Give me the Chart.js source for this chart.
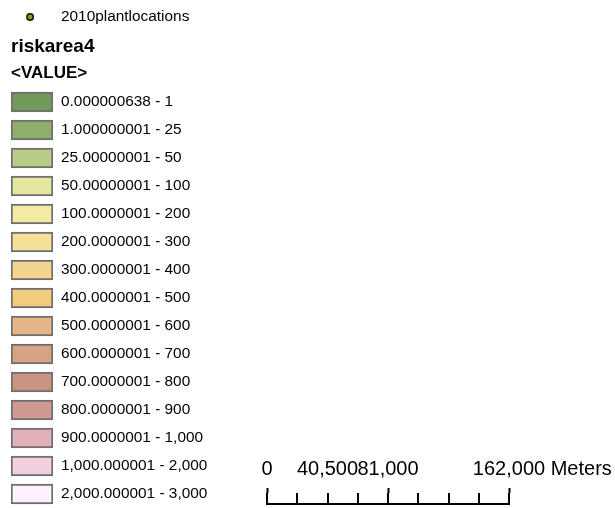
<!DOCTYPE html>
<html>
<head>
<meta charset="utf-8">
<script src="https://cdn.jsdelivr.net/npm/chart.js@4.4.1/dist/chart.umd.min.js"></script>
<style>
  html, body { margin: 0; padding: 0; background: #fff; overflow: hidden; }
  #wrap { position: relative; width: 615px; height: 508px; }
  canvas { position: absolute; }
  #pointCanvas { left: 0; top: 0; z-index: 2; }
  #classCanvas { left: 0; top: 0; }
  #scaleCanvas { left: 240px; top: 440px; }
</style>
</head>
<body>
<div id="wrap">
  <canvas id="classCanvas" width="230" height="508"></canvas>
  <canvas id="pointCanvas" width="230" height="34"></canvas>
  <canvas id="scaleCanvas" width="375" height="68"></canvas>
</div>
<script>
// legend data
const pointLayer = '2010plantlocations';
const rasterLayer = 'riskarea4';
const rasterField = '<VALUE>';

const classLabels = [
  '0.000000638 - 1',
  '1.000000001 - 25',
  '25.00000001 - 50',
  '50.00000001 - 100',
  '100.0000001 - 200',
  '200.0000001 - 300',
  '300.0000001 - 400',
  '400.0000001 - 500',
  '500.0000001 - 600',
  '600.0000001 - 700',
  '700.0000001 - 800',
  '800.0000001 - 900',
  '900.0000001 - 1,000',
  '1,000.000001 - 2,000',
  '2,000.000001 - 3,000'
];
const classColors = [
  '#70995a', '#8fae6b', '#b8cc87', '#e2e69e', '#f2eba4',
  '#f3e19a', '#f2d68e', '#f2cb80', '#e5b586', '#d8a383',
  '#c99480', '#cf9b90', '#e1b0b8', '#f0d0df', '#fff0fd'
];

// scale bar
const scaleMax = 162000;
const scaleStep = 20250;
const scaleLabelTicks = [0, 40500, 81000, 162000];
const scaleUnit = 'Meters';

Chart.defaults.font.family = "'Liberation Sans', Arial, sans-serif";
Chart.defaults.color = '#000';

const noPad = (scale) => { scale.paddingTop = 0; scale.paddingBottom = 0; scale.paddingLeft = 0; scale.paddingRight = 0; };

// point layer row
new Chart(document.getElementById('pointCanvas'), {
  type: 'scatter',
  data: {
    datasets: [{
      data: [{ x: 0, y: pointLayer }],
      pointRadius: 3.2,
      backgroundColor: '#9a9200',
      borderColor: '#111',
      borderWidth: 1.5
    }]
  },
  options: {
    responsive: false,
    animation: false,
    layout: { padding: { left: 11, top: 0, bottom: 2, right: 0 } },
    plugins: { legend: { display: false }, tooltip: { enabled: false } },
    scales: {
      x: { display: false, min: -1, max: 1.2 },
      y: {
        type: 'category',
        labels: [pointLayer],
        offset: true,
        position: 'right',
        grid: { display: false, drawTicks: false },
        border: { display: false },
        ticks: { padding: 8, font: { size: 15.4 } },
        afterFit: (s) => { s.width = 177; noPad(s); }
      }
    }
  }
});

// raster classes
new Chart(document.getElementById('classCanvas'), {
  type: 'bar',
  data: {
    labels: classLabels,
    datasets: [{
      data: classLabels.map(() => 1),
      backgroundColor: classColors,
      borderColor: '#6e6e6e',
      borderWidth: 2,
      borderSkipped: false,
      barThickness: 20
    }]
  },
  options: {
    indexAxis: 'y',
    responsive: false,
    animation: false,
    layout: { padding: { left: 11, top: 0, bottom: 0, right: 0 } },
    plugins: {
      legend: { display: false },
      tooltip: { enabled: false },
      title: {
        display: true, text: rasterLayer, align: 'start', color: '#000',
        font: { size: 19, weight: 'bold' }, padding: { top: 35.3, bottom: 0 }
      },
      subtitle: {
        display: true, text: rasterField, align: 'start', color: '#000',
        font: { size: 17, weight: 'bold' }, padding: { top: 5, bottom: 4.5 }
      }
    },
    scales: {
      x: { display: false, min: 0, max: 1 },
      y: {
        position: 'right',
        grid: { display: false, drawTicks: false },
        border: { display: false },
        ticks: { padding: 8, font: { size: 15.4 }, color: '#000' },
        afterFit: (s) => { s.width = 177; noPad(s); }
      }
    }
  }
});

// scale bar
new Chart(document.getElementById('scaleCanvas'), {
  type: 'scatter',
  data: { datasets: [] },
  options: {
    responsive: false,
    animation: false,
    layout: { padding: { left: 27, right: 106, top: 14.6, bottom: 4 } },
    plugins: { legend: { display: false }, tooltip: { enabled: false } },
    scales: {
      x: {
        position: 'bottom', min: 0, max: scaleMax,
        ticks: { display: false, stepSize: scaleStep },
        grid: { color: '#000', lineWidth: 2, drawTicks: false },
        border: { display: true, color: '#000', width: 2 },
        afterFit: (s) => { s.height = 0; noPad(s); }
      },
      x2: {
        position: 'top', axis: 'x', min: 0, max: scaleMax,
        afterBuildTicks: (s) => { s.ticks = scaleLabelTicks.map(v => ({ value: v })); },
        ticks: {
          padding: 7,
          autoSkip: false,
          maxRotation: 0,
          font: { family: "'Liberation Sans Narrow', 'Liberation Sans', Arial, sans-serif", size: 20 },
          color: '#000',
          callback: (v) => v === scaleMax
            ? '\u00a0'.repeat(12) + v.toLocaleString('en-US') + ' ' + scaleUnit
            : v.toLocaleString('en-US')
        },
        grid: {
          drawOnChartArea: false, drawTicks: true, tickLength: 5, tickWidth: 2,
          tickColor: (c) => (c.tick && c.tick.value === 40500) ? 'rgba(0,0,0,0)' : '#000'
        },
        border: { display: false },
        afterFit: (s) => { s.height = 38.4; noPad(s); }
      },
      y: { display: false, min: 0, max: 1 }
    }
  }
});
</script>
</body>
</html>
